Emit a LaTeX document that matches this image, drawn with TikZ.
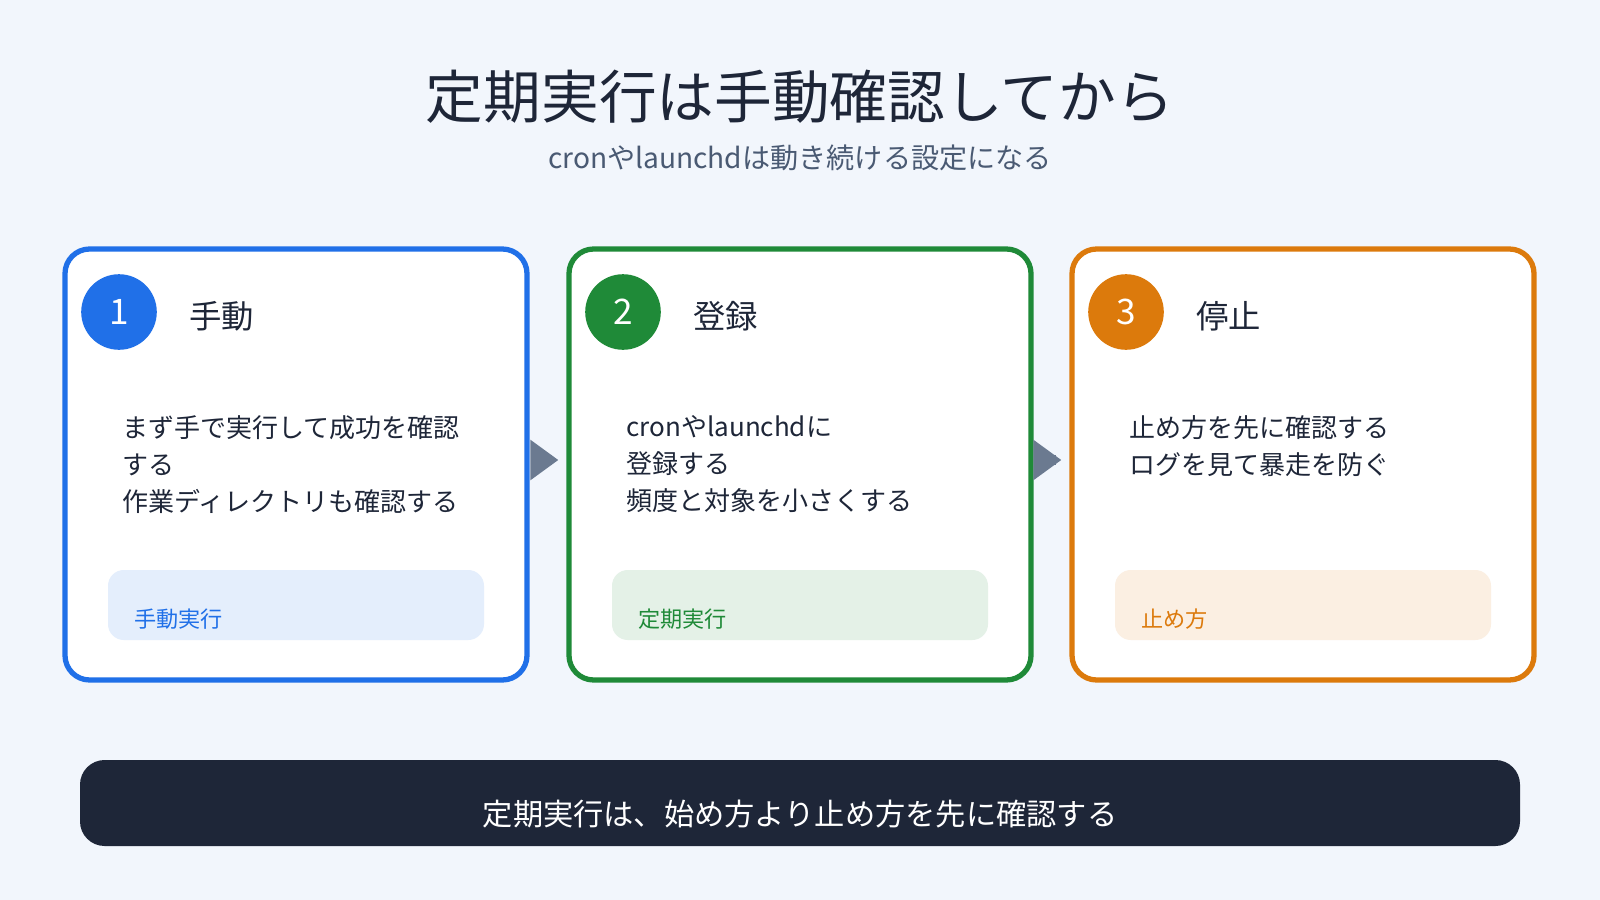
\documentclass[tikz,border=0pt]{standalone}
\usepackage{fontspec}
\setmainfont{Noto Sans CJK JP}
\usetikzlibrary{arrows.meta}
\definecolor{bgcol}{HTML}{F2F6FC}
\definecolor{inkcol}{HTML}{1E2638}
\definecolor{subcol}{HTML}{4A5A73}
\definecolor{arrcol}{HTML}{6B7A90}
\definecolor{bluecol}{HTML}{2070E8}
\definecolor{greencol}{HTML}{1F8A38}
\definecolor{orangecol}{HTML}{DC7A0C}
\tikzset{
  card/.style={draw=#1, line width=1.5pt, fill=white, rounded corners=7pt},
  tagbox/.style={fill=#1!12, rounded corners=4.5pt},
  numdot/.style={circle, fill=#1, minimum size=21.5pt, inner sep=0pt, text=white, font=\fontsize{10}{12}\selectfont},
  headtext/.style={anchor=west, font=\fontsize{9.2}{11}\selectfont, text=inkcol},
  bodytext/.style={anchor=north west, align=left, font=\fontsize{7.4}{10.6}\selectfont, text=inkcol},
  tagtext/.style={anchor=west, font=\fontsize{6.3}{7.5}\selectfont, text=#1},
  flowarrow/.style={-{Triangle[length=8pt,width=11pt]}, line width=3pt, draw=arrcol}
}
\begin{document}
\begin{tikzpicture}[x=0.01cm, y=-0.01cm]
  \fill[bgcol] (0,0) rectangle (1600,900);
  \useasboundingbox (0,0) rectangle (1600,900);

  % Title
  \node[font=\fontsize{16.4}{19}\selectfont, text=inkcol] (title) at (800,97) {定期実行は手動確認してから};
  \node[font=\fontsize{8}{10}\selectfont, text=subcol] (subtitle) at (800,158) {cronやlaunchdは動き続ける設定になる};

  % Cards
  \foreach \i/\xo/\col/\num/\head/\body/\tag in {
      1/65/bluecol/1/手動/{まず手で実行して成功を確認\\する\\作業ディレクトリも確認する}/手動実行,
      2/569/greencol/2/登録/{cronやlaunchdに\\登録する\\頻度と対象を小さくする}/定期実行,
      3/1072/orangecol/3/停止/{止め方を先に確認する\\ログを見て暴走を防ぐ}/止め方}{
    \draw[card=\col] (\xo,249) rectangle ++(462,431);
    \coordinate (card\i w) at (\xo,460);
    \coordinate (card\i e) at (\xo+462,460);
    \node[numdot=\col] (num\i) at (\xo+54,312) {\num};
    \node[headtext] (head\i) at (\xo+112,316) {\head};
    \node[bodytext] (body\i) at (\xo+45,403) {\body};
    \fill[tagbox=\col] (\xo+43,570) rectangle ++(376,70);
    \node[tagtext=\col] (tag\i) at (\xo+57,619) {\tag};
  }

  % Arrows between cards
  \draw[flowarrow] ([xshift=7]card1e) -- ([xshift=-3]card2w);
  \draw[flowarrow] ([xshift=7]card2e) -- ([xshift=-3]card3w);

  % Bottom bar
  \fill[inkcol, rounded corners=7pt] (80,760) rectangle (1520,846);
  \node[font=\fontsize{8.6}{10}\selectfont, text=white] (summary) at (800,814) {定期実行は、始め方より止め方を先に確認する};
\end{tikzpicture}
\end{document}
